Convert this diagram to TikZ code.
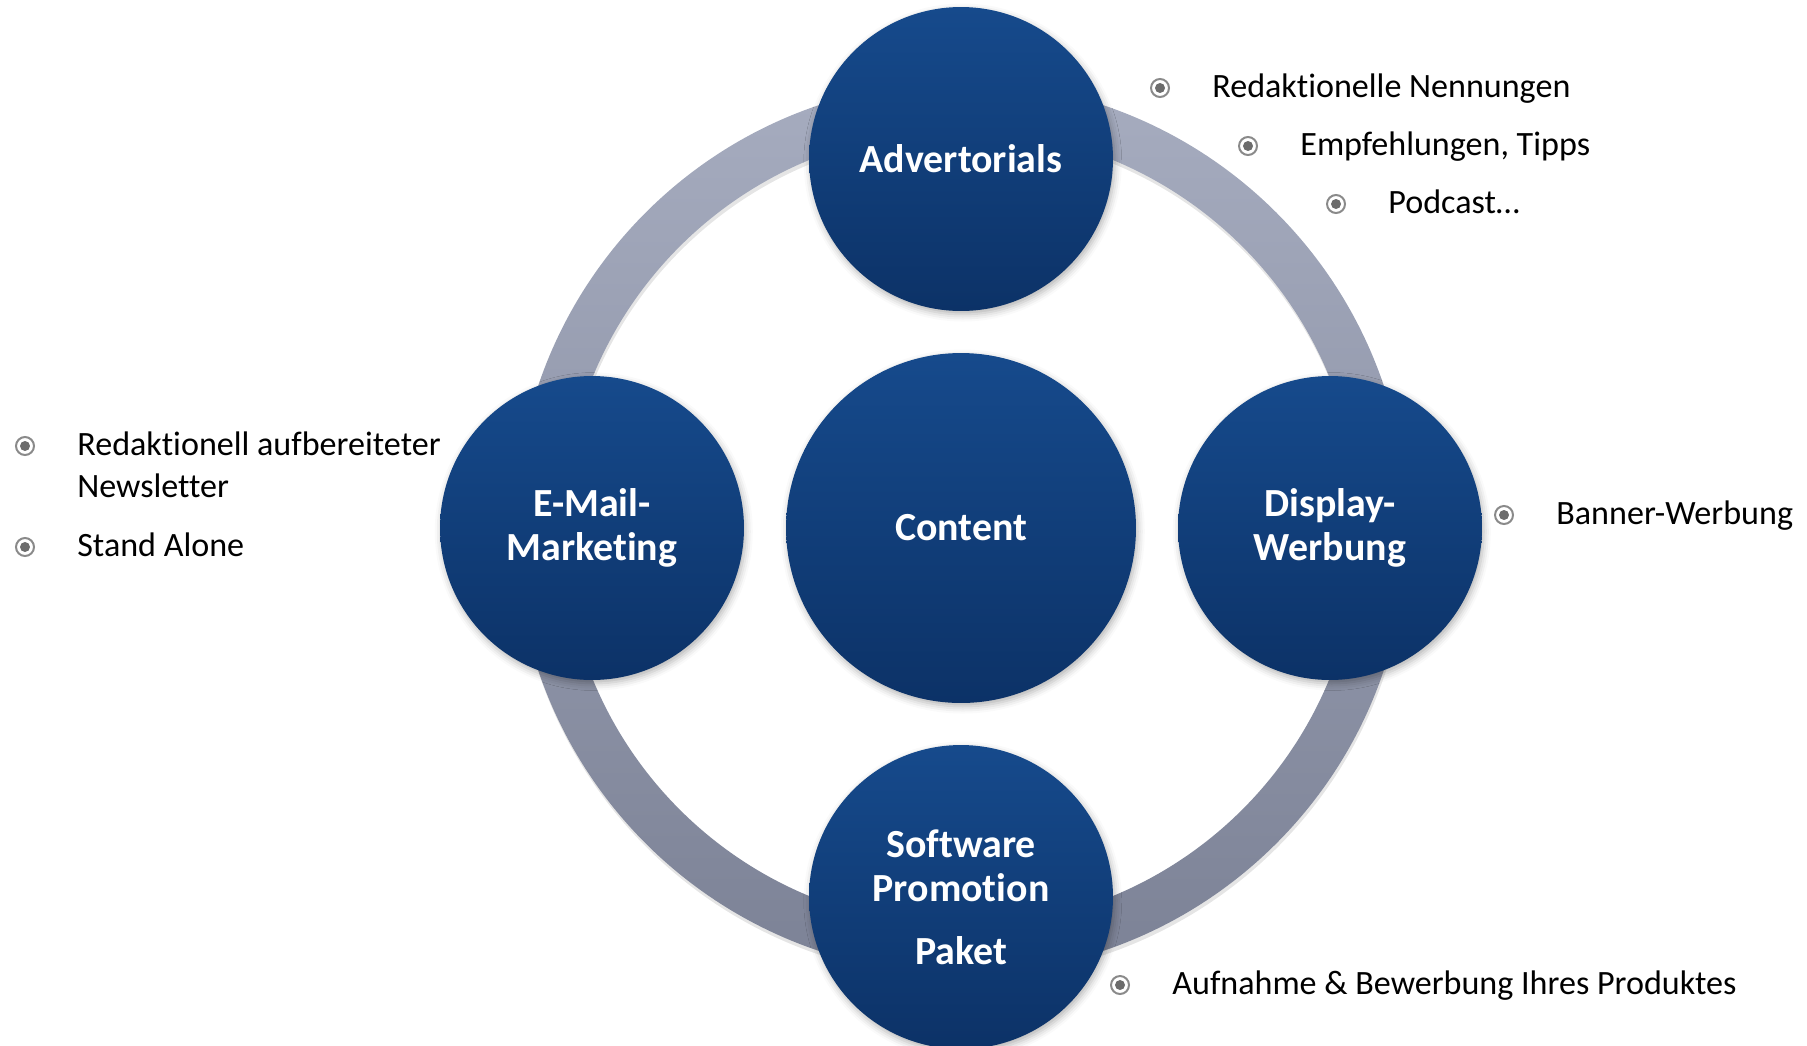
\documentclass[tikz,border=0pt]{standalone}
\usepackage{fontspec}
\setmainfont{Carlito}[Ligatures=NoCommon]
\usetikzlibrary{positioning,calc,shadows.blur}

\definecolor{bluetop}{RGB}{22,74,140}
\definecolor{bluebot}{RGB}{12,50,103}
\definecolor{ringtop}{RGB}{166,172,191}
\definecolor{ringbot}{RGB}{124,130,150}
\definecolor{bulgray}{RGB}{138,138,138}
\definecolor{buldot}{RGB}{108,108,108}

\tikzset{
  topic/.style={circle, minimum size=6.08cm, inner sep=0pt,
    top color=bluetop, bottom color=bluebot, text=white, align=center,
    font=\fontsize{22.7}{25}\selectfont\bfseries,
    blur shadow={shadow xshift=1pt, shadow yshift=-2pt, shadow blur radius=4pt, shadow opacity=30}},
  core/.style={topic, minimum size=7cm},
  item/.style={inner sep=0pt, anchor=base west, font=\fontsize{19.4}{23.8}\selectfont},
  bul/.style={circle, draw=bulgray, line width=0.04cm, minimum size=0.36cm, inner sep=0pt,
    path picture={\fill[buldot] (path picture bounding box.center) circle (0.1cm);}}
}

\begin{document}
\begin{tikzpicture}[x=0.02cm, y=-0.02cm]
            \useasboundingbox (0,0) rectangle (1807,1045);
            \def\ring{422} % radius of the ring
            \def\arm{369} % distance of the outer circles
            \coordinate (C) at (961,528);
            \coordinate (T) at ($(C)+(0,-\arm)$);
            \coordinate (B) at ($(C)+(0,\arm)$);
            \coordinate (L) at ($(C)+(-\arm,0)$);
            \coordinate (R) at ($(C)+(\arm,0)$);

            % ring
            \fill[black, opacity=0.10, even odd rule] ($(C)+(1,4)$) circle [radius=\ring+24] ($(C)+(1,4)$) circle [radius=\ring-24];
            \shade[top color=ringtop, bottom color=ringbot, even odd rule] (C) circle [radius=\ring+24] (C) circle [radius=\ring-24];

            % circles
            \node[core] (content) at (C) {Content};
            \node[topic] (adv) at (T) {Advertorials};
            \node[topic] (mail) at (L) {E-Mail-\\Marketing};
            \node[topic] (disp) at (R) {Display-\\Werbung};
            \node[topic] (soft) at (B) {Software\\Promotion\\[10.7pt]Paket};

            % lists
            \node[item] (red) at (1212,97) {Redaktionelle Nennungen};
            \node[item] (emp) at (1300,155) {Empfehlungen, Tipps};
            \node[item] (pod) at (1388,213) {Podcast…};
            \node[item] (aufb) at (77,455) {Redaktionell aufbereiteter};
            \node[item] (news) at (77,497) {Newsletter};
            \node[item] (stand) at (77,556) {Stand Alone};
            \node[item] (ban) at (1556,524) {Banner-Werbung};
            \node[item] (aufn) at (1172,994) {Aufnahme \& Bewerbung Ihres Produktes};

            \foreach \n in {red,emp,pod,aufb,stand,ban,aufn}
                \node[bul] (b-\n) at ($(\n.base west)+(-52,-9)$) {};

        \end{tikzpicture}
\end{document}
